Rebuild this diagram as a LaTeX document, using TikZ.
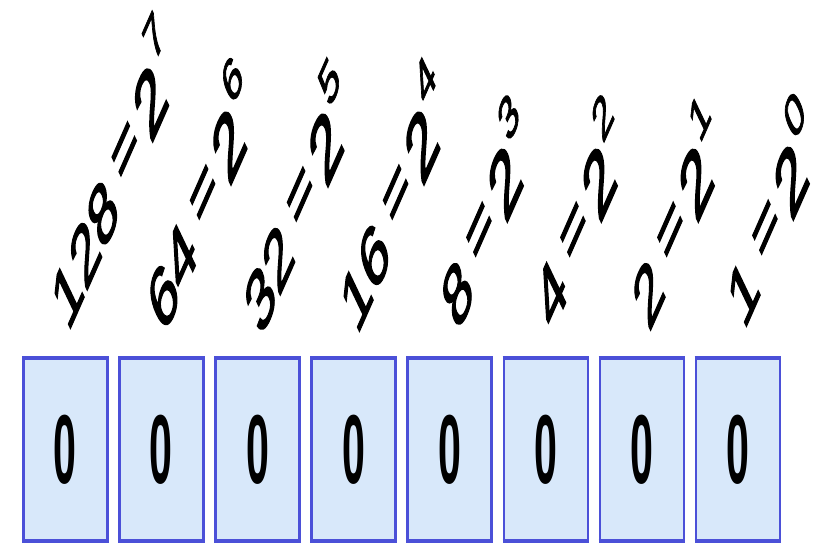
\documentclass[tikz,border=0pt]{standalone}
\usepackage{fontspec}
\setmainfont{Liberation Sans}
\newfontfamily\labfont{Liberation Sans}[FakeBold=2.2]
\newfontfamily\twofont{Liberation Sans}[FakeBold=3.2]
\definecolor{boxfill}{HTML}{D8E8FA}
\definecolor{boxline}{HTML}{4B50D8}
\newcommand{\powlab}[2]{#1\hspace{0.22em}\raisebox{0.14em}{=}\hspace{0.14em}{\twofont\fontsize{83}{83}\selectfont 2}\hspace{0.03em}\raisebox{0.6em}{\fontsize{54}{54}\selectfont #2}}
\begin{document}
\begin{tikzpicture}[x=1pt,y=1pt,
  bitbox/.style={draw=boxline,line width=2.5pt,fill=boxfill,minimum width=84pt,minimum height=181pt,inner sep=0pt,anchor=north west},
  bitval/.style={font=\fontsize{98}{98}\selectfont\bfseries,inner sep=0pt},
  powlabel/.style={font=\labfont\fontsize{77}{77}\selectfont,anchor=base west,inner sep=0pt,
    cm={0.4125,0.9375,-0.3625,0.7625,(0,0)}}]
\useasboundingbox (0,0) rectangle (833,543);
\fill[white] (0,0) rectangle (833,543);
\foreach \i in {0,...,7}{
  \node[bitbox] (b\i) at ({22+96.1*\i},{543-358}) {};
  \draw[boxline,line width=4pt] (b\i.north west) -- (b\i.north east);
  \draw[boxline,line width=4pt] (b\i.south west) -- (b\i.south east);
  \node[bitval] (v\i) at (b\i.center) {\scalebox{0.42}[1]{0}};
}
\node[powlabel] (l0) at (68,{543-334}) {\powlab{128}{7}};
\node[powlabel] (l1) at (164,{543-337}) {\powlab{64}{6}};
\node[powlabel] (l2) at (261,{543-339}) {\powlab{32}{5}};
\node[powlabel] (l3) at (357,{543-337}) {\powlab{16}{4}};
\node[powlabel] (l4) at (458,{543-334}) {\powlab{8}{3}};
\node[powlabel] (l5) at (552,{543-334}) {\powlab{4}{2}};
\node[powlabel] (l6) at (649,{543-334}) {\powlab{2}{1}};
\node[powlabel] (l7) at (744,{543-332}) {\powlab{1}{0}};
\end{tikzpicture}
\end{document}
